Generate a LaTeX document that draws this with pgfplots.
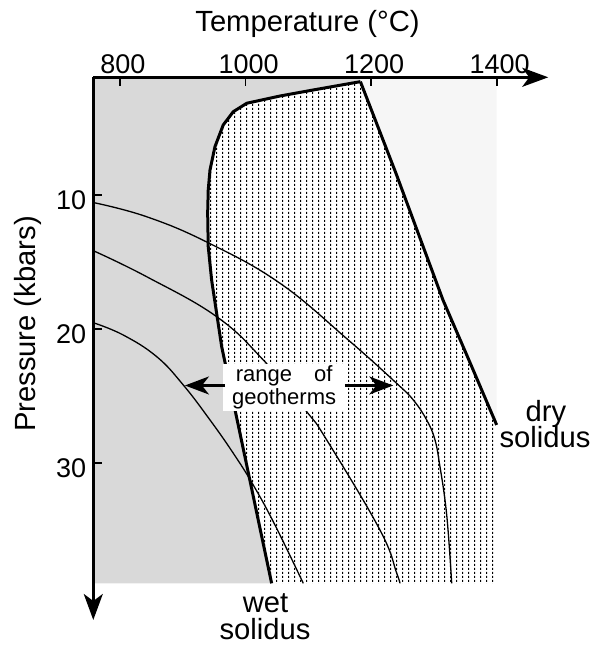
\documentclass[border=0pt]{standalone}
\usepackage{fontspec}
\setmainfont{Liberation Sans}
\usepackage{pgfplots}
\pgfplotsset{compat=1.18}
\usetikzlibrary{arrows.meta,patterns.meta}

% stippled field between the two solidi
\tikzdeclarepattern{
  name=meltdots, type=uncolored,
  bottom left={(0pt,0pt)}, top right={(3.1pt,2.1pt)},
  tile size={(3.1pt,2.1pt)},
  code={\pgfpathrectangle{\pgfpoint{0pt}{0pt}}{\pgfpoint{0.7pt}{1.25pt}}\pgfusepath{fill}}
}

\definecolor{wetgray}{RGB}{217,217,217}
\definecolor{drygray}{RGB}{246,246,246}

\begin{document}
\begin{tikzpicture}
\begin{axis}[
  scale only axis, width=227.5pt, height=271.35pt,
  xmin=757.5, xmax=1482.2, ymin=1.226, ymax=41.68,
  y dir=reverse,
  axis x line=top, axis y line=left,
  axis line style={line width=1.3pt, -{Stealth[length=13pt,width=9.5pt,inset=3.5pt]}},
  axis on top,
  clip=false,
  xtick={800,1000,1200,1400}, ytick={10,20,30},
  tick align=inside, major tick length=4.5pt,
  major tick style={black, line width=0.9pt},
  tick label style={font=\fontsize{13.5}{16}\selectfont},
  /pgf/number format/assume math mode=true,
  /pgf/number format/1000 sep={},
  xticklabel style={inner sep=1.5pt, xshift=1.5pt},
  yticklabel style={yshift=-2.5pt},
]
% wet side (sub-solidus, hydrous)
\addplot[draw=none, fill=wetgray] coordinates {
  (757.5,1.226) (1183,1.226) (1183,1.55) (1108,2.17) (1055,2.62) (1002,3.16)
  (980.5,3.79) (964.5,4.78) (951.3,6.40) (943.4,8.14) (940.6,9.63) (939.7,11.34)
  (940.6,13.85) (946,16.34) (954,18.82) (962,21.3) (975.4,24.27) (988.8,27.24)
  (1002.3,30.23) (1023.6,34.97) (1041.6,38.95) (757.5,38.95)};
% above dry solidus
\addplot[draw=none, fill=drygray] coordinates {
  (1183,1.226) (1400,1.226) (1400,27.14) (1353.5,22.05) (1314.5,17.83) (1239.6,8.38) (1183,1.55)};
% melting field
\addplot[draw=none, fill=white, postaction={pattern=meltdots, pattern color=black}] coordinates {
  (1183,1.55) (1108,2.17) (1055,2.62) (1002,3.16)
  (980.5,3.79) (964.5,4.78) (951.3,6.40) (943.4,8.14) (940.6,9.63) (939.7,11.34)
  (940.6,13.85) (946,16.34) (954,18.82) (962,21.3) (975.4,24.27) (988.8,27.24)
  (1002.3,30.23) (1023.6,34.97) (1041.6,38.95) (1400,38.95) (1400,27.14)
  (1353.5,22.05) (1314.5,17.83) (1239.6,8.38)};

% geotherms
\addplot[line width=0.65pt, smooth, tension=0.7] coordinates {
  (757.5,10.56) (842.5,11.62) (940.6,13.56) (1054.9,16.58) (1163.7,20.81)
  (1240.7,24.04) (1267.2,25.28) (1288.5,26.77) (1301.8,28.26)
  (1309.7,30.25) (1317.7,32.74) (1323,35.22) (1328.4,38.95)};
\addplot[line width=0.65pt, smooth, tension=0.7] coordinates {
  (757.5,14.15) (842.5,16.09) (954,19.07) (1028.3,22.3) (1097.4,26.15)
  (1129.3,28.26) (1214.1,34.97) (1240.7,38.18) (1246,38.95)};
\addplot[line width=0.65pt, smooth, tension=0.7] coordinates {
  (757.5,19.52) (805.3,20.44) (858.5,22.05) (900.8,24.16) (943.4,26.77)
  (980.5,29.25) (1012.3,31.62) (1046.9,34.6) (1092,38.95)};

% solidi
\addplot[line width=1.5pt, line join=round] coordinates {
  (1183,1.55) (1108,2.17) (1055,2.62) (1002,3.16)
  (980.5,3.79) (964.5,4.78) (951.3,6.40) (943.4,8.14) (940.6,9.63) (939.7,11.34)
  (940.6,13.85) (946,16.34) (954,18.82) (962,21.3) (975.4,24.27) (988.8,27.24)
  (1002.3,30.23) (1023.6,34.97) (1041.6,38.95)};
\addplot[line width=1.5pt, line join=round] coordinates {
  (1183,1.55) (1239.6,8.38) (1314.5,17.83) (1353.5,22.05) (1400,27.14)};

% annotation
\node[fill=white, inner xsep=4.5pt, inner ysep=1pt, align=center,
      font=\fontsize{11}{11.7}\selectfont] at (axis cs:1061.5,24.35) {range\hspace{1em}of\\geotherms};
\draw[line width=1.2pt, -{Stealth[length=12pt,width=9pt,inset=3.5pt]}] (axis cs:967.3,24.2) -- (axis cs:903.5,24.2);
\draw[line width=1.2pt, -{Stealth[length=12pt,width=9pt,inset=3.5pt]}] (axis cs:1158.4,24.2) -- (axis cs:1235.3,24.2);

% labels
\begin{scope}[every node/.style={font=\fontsize{14.6}{17}\selectfont}]
\node[anchor=base] at (axis cs:1098.7,-2.17) {Temperature (°C)};
\node[rotate=90] at (axis cs:653.5,19.62) {Pressure (kbars)};
\node[anchor=base] at (axis cs:1478.6,26.85) {dry};
\node[anchor=base] at (axis cs:1477,28.86) {solidus};
\node[anchor=base] at (axis cs:1031.8,41.15) {wet};
\node[anchor=base] at (axis cs:1031,43.17) {solidus};
\end{scope}
\path (axis cs:608.9,-4.536) rectangle (axis cs:1556.6,43.77);
\end{axis}
\end{tikzpicture}
\end{document}
